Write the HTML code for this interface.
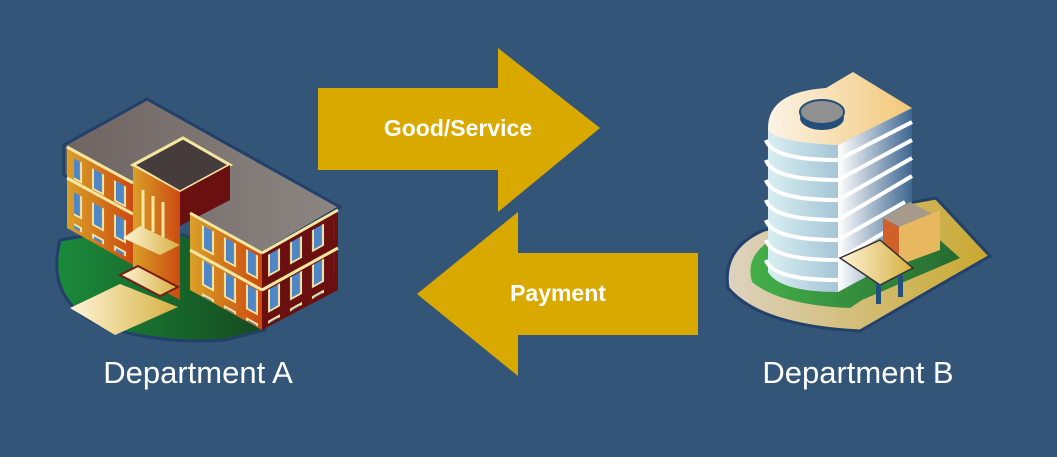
<!DOCTYPE html>
<html><head><meta charset="utf-8"><style>
html,body{margin:0;padding:0;background:#335577;}
body{width:1057px;height:457px;overflow:hidden;position:relative;font-family:"Liberation Sans",Arial,sans-serif;}
svg{position:absolute;left:0;top:0;}
</style></head><body>
<svg width="1057" height="457" viewBox="0 0 1057 457" xmlns="http://www.w3.org/2000/svg">
<defs>
<linearGradient id="orA" x1="0" x2="1"><stop offset="0" stop-color="#d9a028"/><stop offset="1" stop-color="#cc4a10"/></linearGradient>
<linearGradient id="grA" x1="0" x2="1"><stop offset="0" stop-color="#1a8a3a"/><stop offset="1" stop-color="#154a20"/></linearGradient>
<linearGradient id="crA" x1="0" x2="1"><stop offset="0" stop-color="#fff4d8"/><stop offset="1" stop-color="#d6b040"/></linearGradient>
<linearGradient id="roofA" x1="0" x2="1"><stop offset="0" stop-color="#6e6462"/><stop offset="1" stop-color="#8c8682"/></linearGradient>
<linearGradient id="cylL" x1="0" x2="1"><stop offset="0" stop-color="#d8eef2"/><stop offset="1" stop-color="#6f9ab8"/></linearGradient>
<linearGradient id="cylR" x1="0" x2="1"><stop offset="0" stop-color="#ffffff"/><stop offset="1" stop-color="#3d6690"/></linearGradient>
<linearGradient id="topB" x1="0" x2="1"><stop offset="0" stop-color="#fbf3e6"/><stop offset="1" stop-color="#f2c878"/></linearGradient>
<linearGradient id="baseB" x1="0" x2="1"><stop offset="0" stop-color="#ddd3c0"/><stop offset="1" stop-color="#c9a82e"/></linearGradient>
<linearGradient id="grB" x1="0" x2="1"><stop offset="0" stop-color="#44b04a"/><stop offset="1" stop-color="#256a30"/></linearGradient>
<pattern id="winL" width="22" height="36" patternUnits="userSpaceOnUse"><rect x="4" y="3" width="12" height="28" fill="#f6e7a0"/><rect x="6" y="5" width="8" height="24" fill="#4f86c6"/></pattern>
</defs>

<polygon points="318,88 498,88 498,48 600,128 498,212 498,170 318,170" fill="#d9a900"/>
<text x="458" y="136" fill="#fff" font-size="23" font-weight="bold" text-anchor="middle">Good/Service</text>
<polygon points="698,253 518,253 518,212 417,294 518,376 518,335 698,335" fill="#d9a900"/>
<text x="558" y="301" fill="#fff" font-size="23" font-weight="bold" text-anchor="middle">Payment</text>

<!-- Building A -->
<path d="M60,240 Q45,300 100,325 Q160,345 225,340 L265,330 L265,260 L150,225 Z" fill="url(#grA)" stroke="#22406a" stroke-width="3"/>
<polygon points="64,145 147,99 340,207 262,253 190,213 160,228 64,175" fill="url(#roofA)" stroke="#22406a" stroke-width="3"/>
<polygon points="67,147 133,183 133,265 67,228" fill="url(#orA)"/>
<line x1="67" y1="178" x2="133" y2="214" stroke="#f6e7a0" stroke-width="3"/>
<line x1="67" y1="147" x2="133" y2="183" stroke="#f6e7a0" stroke-width="3"/>
<g transform="matrix(1,0.545,0,1,0,0)">
<rect x="74" y="118" width="55" height="28" fill="url(#winL)"/>
<rect x="74" y="152" width="55" height="36" fill="url(#winL)"/>
</g>
<polygon points="133,165 183,138 230,165 180,192" fill="#463c3c" stroke="#f6e7a0" stroke-width="3"/>
<polygon points="133,166 180,192 180,300 133,274" fill="url(#orA)"/>
<polygon points="180,192 230,165 230,200 180,226" fill="#6a1010"/>
<line x1="143" y1="190" x2="143" y2="228" stroke="#f6e7a0" stroke-width="3"/>
<line x1="153" y1="196" x2="153" y2="232" stroke="#f6e7a0" stroke-width="3"/>
<line x1="163" y1="202" x2="163" y2="238" stroke="#f6e7a0" stroke-width="3"/>
<polygon points="190,213 262,253 262,330 190,290" fill="url(#orA)"/>
<polygon points="262,253 338,210 338,290 262,330" fill="#6a1010"/>
<g transform="matrix(1,0.545,0,1,0,0)">
<rect x="198" y="115" width="60" height="30" fill="url(#winL)"/>
<rect x="198" y="150" width="60" height="36" fill="url(#winL)"/>
</g>
<g transform="matrix(1,-0.56,0,1,0,0)">
<rect x="268" y="405" width="66" height="30" fill="url(#winL)"/>
<rect x="268" y="440" width="66" height="34" fill="url(#winL)"/>
</g>
<line x1="190" y1="213" x2="262" y2="253" stroke="#f6e7a0" stroke-width="3"/>
<line x1="262" y1="253" x2="338" y2="210" stroke="#f6e7a0" stroke-width="3"/>
<line x1="190" y1="250" x2="262" y2="290" stroke="#f6e7a0" stroke-width="3"/>
<line x1="262" y1="290" x2="338" y2="248" stroke="#f6e7a0" stroke-width="3"/>
<polygon points="123,238 160,255 180,245 140,226" fill="url(#crA)"/>
<polygon points="120,275 160,296 178,287 138,266" fill="url(#crA)" stroke="#7a1a10" stroke-width="2"/>
<polygon points="70,308 120,284 178,307 115,335" fill="url(#crA)"/>

<!-- Building B -->
<path d="M764,230 Q722,248 728,288 Q760,326 860,331 L990,256 L936,198 Z" fill="url(#baseB)" stroke="#22406a" stroke-width="3"/>
<path d="M768,242 Q745,258 752,282 Q780,305 850,308 L862,300 L960,258 L915,218 Z" fill="url(#grB)"/>
<path d="M768,128 L768,272 Q780,292 838,292 L912,252 L912,108 Z" fill="url(#cylL)"/>
<polygon points="838,145 912,108 912,252 838,292" fill="url(#cylR)"/>
<path d="M768,128 Q768,92 826,88 L853,72 L912,108 L838,145 Q770,142 768,128 Z" fill="url(#topB)"/>
<ellipse cx="822" cy="118" rx="22" ry="12" fill="#22507a"/>
<ellipse cx="822" cy="112" rx="22" ry="12" fill="#909090" stroke="#22507a" stroke-width="2"/>
<g stroke="#fff" stroke-width="4" fill="none">
<path d="M766,140 Q772,160 838,160 L912,122"/>
<path d="M766,160 Q772,180 838,180 L912,140"/>
<path d="M766,180 Q772,200 838,200 L912,158"/>
<path d="M766,200 Q772,220 838,220 L912,176"/>
<path d="M766,220 Q772,240 838,240 L905,202"/>
<path d="M766,240 Q772,260 838,260 L885,232"/>
<path d="M766,260 Q772,280 838,280"/>
</g>
<polygon points="883,218 910,202 940,218 912,233" fill="#a89a8a"/>
<polygon points="883,218 899,227 899,265 883,258" fill="#d0602a"/>
<polygon points="899,227 940,210 940,250 899,265" fill="#e8b860"/>
<polygon points="840,258 880,240 913,268 880,285" fill="url(#crA)" stroke="#333" stroke-width="1.5"/>
<rect x="876" y="284" width="5" height="20" fill="#22507a"/>
<rect x="898" y="275" width="5" height="22" fill="#22507a"/>

<text x="198" y="383" fill="#fff" font-size="31" text-anchor="middle">Department A</text>
<text x="858" y="383" fill="#fff" font-size="31" text-anchor="middle">Department B</text>
</svg>
</body></html>
